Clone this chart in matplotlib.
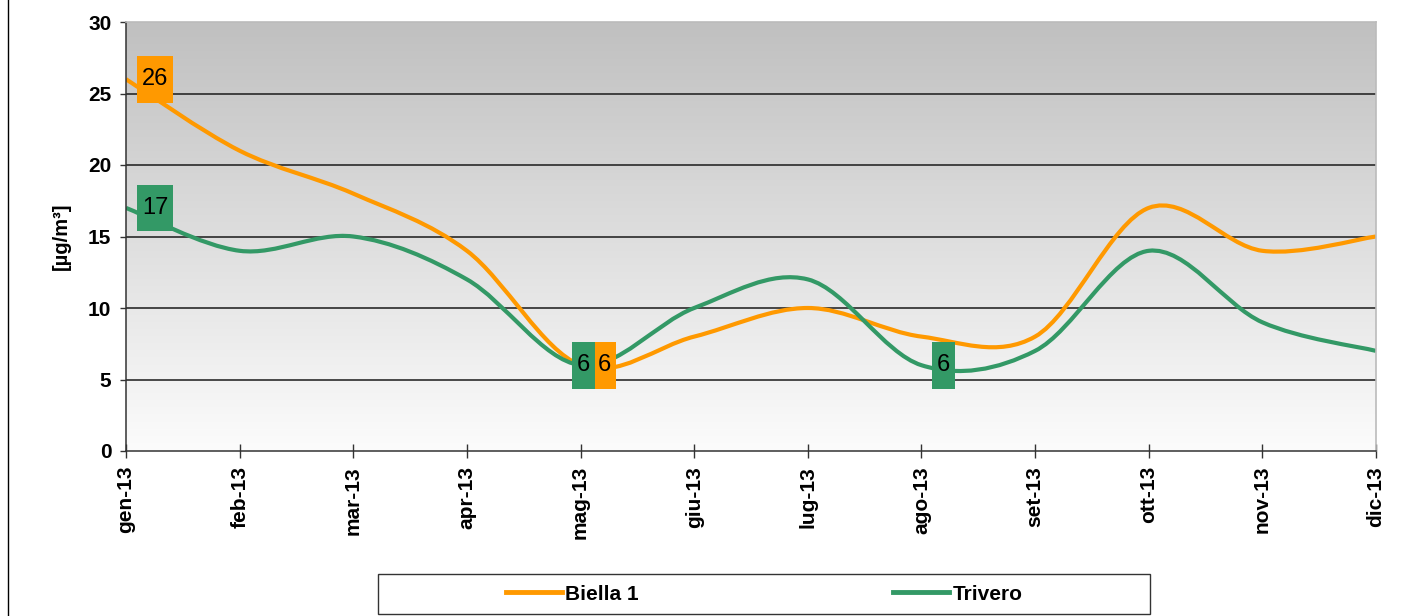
import matplotlib.pyplot as plt
import numpy as np
from matplotlib.path import Path
from matplotlib.patches import PathPatch, Rectangle
from matplotlib.lines import Line2D

# dati mensili
months = ["gen-13", "feb-13", "mar-13", "apr-13", "mag-13", "giu-13",
          "lug-13", "ago-13", "set-13", "ott-13", "nov-13", "dic-13"]
biella = [26, 21, 18, 14, 6, 8, 10, 8, 8, 17, 14, 15]
trivero = [17, 14, 15, 12, 6, 10, 12, 6, 7, 14, 9, 7]
biella_labels = [0, 4]
trivero_labels = [0, 4, 7]

ORANGE = "#FF9900"
GREEN = "#339966"

# spostamento orizzontale delle etichette (pixel)
biella_dx = {0: 29, 4: 24}
trivero_dx = {0: 29, 4: 3, 7: 22}

plt.rcParams['font.family'] = ['Liberation Sans', 'DejaVu Sans']


def smooth_path(x, y):
    # linea smussata tipo Excel (bezier)
    n = len(x)
    verts = [(x[0], y[0])]
    codes = [Path.MOVETO]
    for i in range(n - 1):
        a = max(i - 1, 0)
        b = min(i + 2, n - 1)
        c1 = (x[i] + (x[i + 1] - x[a]) / 6, y[i] + (y[i + 1] - y[a]) / 6)
        c2 = (x[i + 1] - (x[b] - x[i]) / 6, y[i + 1] - (y[b] - y[i]) / 6)
        verts += [c1, c2, (x[i + 1], y[i + 1])]
        codes += [Path.CURVE4] * 3
    return Path(verts, codes)


def tall_box(x0, y0, width, height, mutation_size):
    cx = x0 + width / 2
    cy = y0 + height / 2
    hw = width / 2 + 0.19 * mutation_size
    hh = 0.99 * mutation_size
    return Path([(cx - hw, cy - hh), (cx + hw, cy - hh), (cx + hw, cy + hh),
                 (cx - hw, cy + hh), (cx - hw, cy - hh)],
                [Path.MOVETO, Path.LINETO, Path.LINETO, Path.LINETO, Path.CLOSEPOLY])


fig = plt.figure(figsize=(14.17, 6.16), dpi=100)
ax = fig.add_axes([126 / 1417, 1 - 451 / 616, 1250 / 1417, 429 / 616])

x = np.arange(len(months))
ax.set_xlim(0, len(months) - 1)
ax.set_ylim(0, 30)

# sfondo sfumato (scuro in alto)
grad = np.linspace(192, 252, 256)[:, None] / 255.0
ax.imshow(np.dstack([grad, grad, grad]), extent=[0, 1, 0, 1], origin='upper',
          transform=ax.transAxes, aspect='auto', zorder=0)

for yv in range(5, 30, 5):
    ax.axhline(yv, color="#1a1a1a", lw=1.1, zorder=1)

for vals, col in [(biella, ORANGE), (trivero, GREEN)]:
    ax.add_patch(PathPatch(smooth_path(x, vals), fc='none', ec=col, lw=3,
                           capstyle='butt', zorder=2))

for vals, idx, dxs, col in [(biella, biella_labels, biella_dx, ORANGE),
                            (trivero, trivero_labels, trivero_dx, GREEN)]:
    for i in idx:
        ax.annotate(str(vals[i]), xy=(i, vals[i]), xytext=(dxs[i] * 0.72, 0),
                    textcoords='offset points', ha='center', va='center',
                    fontsize=17, color='black', zorder=5,
                    bbox=dict(boxstyle=tall_box, fc=col, ec='none'))

ax.set_xticks(x)
ax.set_xticklabels(months, rotation=90, fontsize=15, fontweight='bold')
ax.set_yticks(range(0, 31, 5))
ax.set_yticklabels([str(v) for v in range(0, 31, 5)], fontsize=15, fontweight='bold')
ax.tick_params(axis='x', direction='inout', length=9.5, width=1, color='#333333', pad=6)
ax.tick_params(axis='y', direction='out', length=4.5, width=1, color='#333333', pad=6)
ax.set_ylabel("[µg/m³]", fontsize=14.5, fontweight='bold', labelpad=12)

for s in ['left', 'bottom']:
    ax.spines[s].set_color('#333333')
    ax.spines[s].set_linewidth(1.1)
for s in ['top', 'right']:
    ax.spines[s].set_color('#BBBBBB')
    ax.spines[s].set_linewidth(1.2)

# legenda
handles = [Line2D([], [], color=ORANGE, lw=3.5), Line2D([], [], color=GREEN, lw=3.5)]
fig.legend(handles, ["Biella 1", "Trivero"], ncol=2, loc='center',
           bbox_to_anchor=(764 / 1417, 1 - 594 / 616), frameon=False,
           prop={'size': 15, 'weight': 'bold'}, handlelength=2.7,
           handletextpad=0.15, columnspacing=12.2)
fig.patches.append(Rectangle((378 / 1417, 1 - 614 / 616), 772 / 1417, 40 / 616,
                             transform=fig.transFigure, fc='none', ec='#333333', lw=1))

fig.lines.append(Line2D([8 / 1417, 8 / 1417], [0, 1], transform=fig.transFigure,
                        color='black', lw=1))

fig.savefig("out.png", dpi=100)
